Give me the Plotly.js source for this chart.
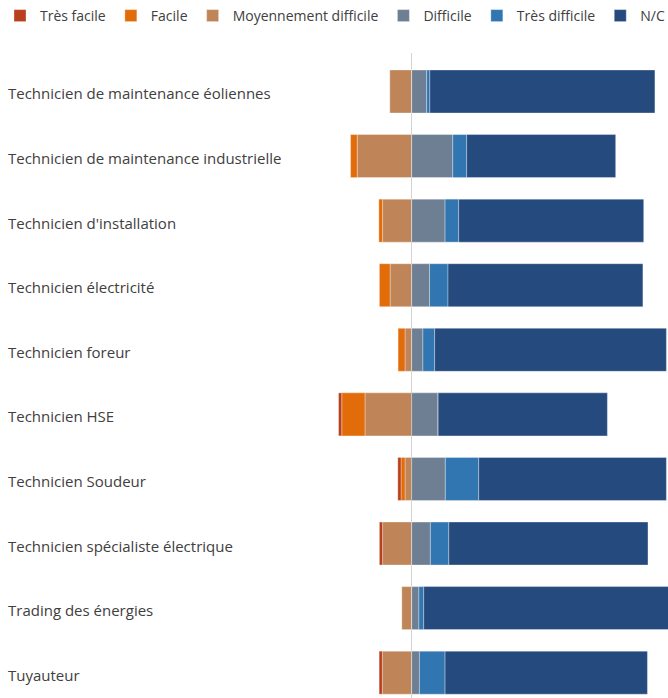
<!DOCTYPE html>
<html>
<head>
<meta charset="utf-8">
<script src="https://cdn.plot.ly/plotly-3.0.1.min.js"></script>
<style>html,body{margin:0;padding:0;background:#fff;}#chart{width:668px;height:698px;}</style>
</head>
<body>
<div id="chart"></div>
<script>
// Categories (top to bottom)
const categories = [
  "Technicien de maintenance éoliennes",
  "Technicien de maintenance industrielle",
  "Technicien d'installation",
  "Technicien électricité",
  "Technicien foreur",
  "Technicien HSE",
  "Technicien Soudeur",
  "Technicien spécialiste électrique",
  "Trading des énergies",
  "Tuyauteur"
];

// Shares (%) per answer — "easy" side drawn to the left of zero
const tresFacile   = [0,   0,    0,    0,    0,    1.2,  1.2,  1.2,  0,    1.2];
const facile       = [0,   2.5,  1.4,  4.0,  2.6,  8.7,  1.5,  0,    0,    0];
const moyennement  = [8.2, 20.4, 10.9, 8.1,  2.5,  17.5, 2.5,  10.9, 3.7,  11.0];
const difficile    = [5.6, 15.4, 12.5, 6.7,  4.2,  9.9,  12.6, 7.0,  2.7,  2.9];
const tresDifficile= [1.2, 5.2,  5.1,  6.9,  4.4,  0,    12.5, 6.9,  1.8,  9.6];
const nc           = [84.3,55.8, 69.3, 73.0, 86.8, 63.4, 70.3, 74.6, 91.8, 75.8];

const seriesNames = ["Très facile","Facile","Moyennement difficile","Difficile","Très difficile","N/C"];
const colors = ["#B8401C","#E36C0A","#BF8558","#6E7F93","#3176B0","#254A7D"];

const neg = a => a.map(v => -v);
const line = {color:"rgba(255,255,255,0.55)", width:0.6};

function bar(name, vals, color, rank, hv){
  return {
    type:"bar", orientation:"h", name:name,
    y:categories, x:vals, customdata:hv,
    marker:{color:color, line:line},
    legendrank:rank,
    hovertemplate:"%{y}<br>"+name+": %{customdata}%<extra></extra>"
  };
}

// Stack order from zero outward on the negative side: Moyennement, Facile, Très facile
const data = [
  bar(seriesNames[2], neg(moyennement), colors[2], 3, moyennement),
  bar(seriesNames[1], neg(facile), colors[1], 2, facile),
  bar(seriesNames[0], neg(tresFacile), colors[0], 1, tresFacile),
  bar(seriesNames[3], difficile, colors[3], 4, difficile),
  bar(seriesNames[4], tresDifficile, colors[4], 5, tresDifficile),
  bar(seriesNames[5], nc, colors[5], 6, nc)
];

const annotations = categories.map(c => ({
  xref:"paper", yref:"y", x:0.009, y:c, xanchor:"left", yanchor:"middle",
  yshift:-2, text:c, showarrow:false,
  font:{family:"Open Sans, sans-serif", size:15, color:"#404040"}
}));

const layout = {
  width:668, height:698,
  margin:{l:0, r:0, t:53, b:0},
  paper_bgcolor:"#fff", plot_bgcolor:"#fff",
  barmode:"relative", bargap:0.334,
  font:{family:"Open Sans, sans-serif", color:"#404040"},
  xaxis:{range:[-154.2, 96.0], showgrid:false, showticklabels:false, ticks:"",
         zeroline:true, zerolinecolor:"#d4d4d4", zerolinewidth:1, fixedrange:true},
  yaxis:{type:"category", categoryorder:"array", categoryarray:categories,
         range:[9.392, -0.596], showticklabels:false, showgrid:false, zeroline:false, ticks:""},
  showlegend:true,
  legend:{orientation:"h", xref:"container", yref:"container", x:0, y:1, xanchor:"left", yanchor:"top",
          font:{family:"Open Sans, sans-serif", size:14, color:"#404040"}, itemwidth:30,
          traceorder:"normal"},
  annotations:annotations
};

Plotly.newPlot("chart", data, layout, {displayModeBar:false});
</script>
</body>
</html>
